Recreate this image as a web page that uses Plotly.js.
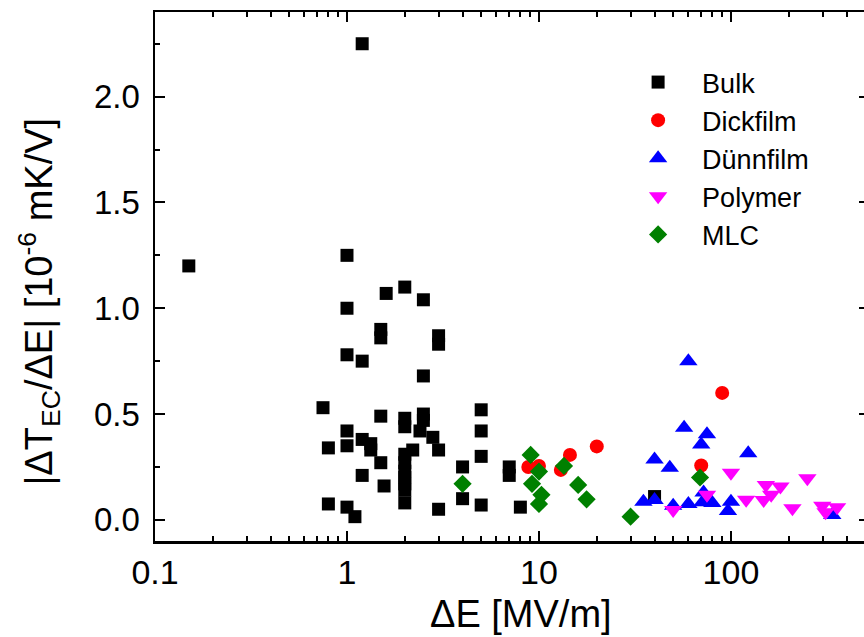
<!DOCTYPE html>
<html>
<head>
<meta charset="utf-8">
<script src="https://cdn.plot.ly/plotly-3.0.1.min.js"></script>
<style>
html, body { margin: 0; padding: 0; overflow: hidden; background: #fff; }
#chart { width: 880px; height: 637px; }
</style>
</head>
<body>
<div id="chart"></div>
<script>
// ---- data ----
const seriesNames = ["Bulk", "Dickfilm", "Dünnfilm", "Polymer", "MLC"];

const bulkX = [0.15, 1.2, 1.0, 1.0, 1.6, 2.0, 2.5, 1.5, 1.5, 3.0, 3.0, 1.0, 1.2, 2.5, 0.75, 1.5, 2.0, 2.0, 2.5, 2.5,
               1.0, 2.4, 2.8, 1.2, 1.33, 1.33, 0.8, 1.0, 2.2, 3.0, 2.0, 2.0, 2.0, 2.0, 2.0, 2.0, 1.5, 1.2, 1.56, 0.8,
               1.0, 1.1, 2.0, 3.0, 5.0, 5.0, 5.0, 4.0, 4.0, 5.0, 7.0, 7.0, 8.0, 40];
const bulkY = [1.20, 2.25, 1.25, 1.00, 1.07, 1.10, 1.04, 0.90, 0.86, 0.87, 0.83, 0.78, 0.75, 0.68, 0.53, 0.49, 0.48, 0.44, 0.50, 0.47,
               0.42, 0.42, 0.39, 0.38, 0.36, 0.33, 0.34, 0.35, 0.33, 0.33, 0.31, 0.27, 0.23, 0.20, 0.17, 0.14, 0.27, 0.21, 0.16, 0.075,
               0.06, 0.015, 0.08, 0.05, 0.52, 0.42, 0.30, 0.25, 0.10, 0.07, 0.25, 0.21, 0.06, 0.11];

const dickX = [8.8, 10, 13, 14.5, 20, 70, 90];
const dickY = [0.25, 0.255, 0.236, 0.307, 0.347, 0.257, 0.60];

const duennX = [60, 57, 75, 70, 40, 48, 123, 35, 40, 50, 60, 72, 71, 80, 100, 96.5, 337];
const duennY = [0.75, 0.435, 0.405, 0.356, 0.285, 0.246, 0.315, 0.085, 0.094, 0.067, 0.075, 0.129, 0.083, 0.08, 0.086, 0.042, 0.023];

const polyX = [100, 75, 50, 120, 250, 152, 181, 148, 162, 209, 299, 311, 357];
const polyY = [0.222, 0.118, 0.047, 0.095, 0.197, 0.165, 0.157, 0.094, 0.118, 0.055, 0.066, 0.036, 0.06];

const mlcX = [4, 9.05, 10, 9.2, 10.3, 10, 13.5, 16, 17.7, 30, 69];
const mlcY = [0.17, 0.307, 0.228, 0.17, 0.118, 0.075, 0.255, 0.165, 0.097, 0.015, 0.20];

const xTickVals = [0.1, 1, 10, 100];
const xTickText = ["0.1", "1", "10", "100"];
const xMinorVals = [0.2, 0.3, 0.4, 0.5, 0.6, 0.7, 0.8, 0.9, 2, 3, 4, 5, 6, 7, 8, 9, 20, 30, 40, 50, 60, 70, 80, 90, 200, 300, 400, 500];
const yTickVals = [0, 0.5, 1.0, 1.5, 2.0];
const yTickText = ["0.0", "0.5", "1.0", "1.5", "2.0"];
const xTitle = "ΔE [MV/m]";
const yTitle = "|ΔT<sub>EC</sub>/ΔE| [10<sup>-6</sup> mK/V]";

// ---- traces ----
const font = "Liberation Sans, Arial, sans-serif";
function tr(name, x, y, symbol, color, size) {
  return { type: "scatter", mode: "markers", name: name, x: x, y: y,
           marker: { symbol: symbol, color: color, size: size, line: { width: 0 } } };
}
const data = [
  tr(seriesNames[0], bulkX, bulkY, "square", "#000000", 13),
  tr(seriesNames[1], dickX, dickY, "circle", "#ff0000", 14),
  tr(seriesNames[2], duennX, duennY, "triangle-up", "#0000ff", 16),
  tr(seriesNames[3], polyX, polyY, "triangle-down", "#ff00ff", 16),
  tr(seriesNames[4], mlcX, mlcY, "diamond", "#008000", 14)
];

const axisCommon = {
  showgrid: false, zeroline: false, showline: true, linecolor: "#000", linewidth: 2.5,
  mirror: "ticks", ticks: "inside", ticklen: 10, tickwidth: 2, tickcolor: "#000"
};

const layout = {
  width: 880, height: 637,
  margin: { l: 155, r: 11, t: 12, b: 96 },
  paper_bgcolor: "#fff", plot_bgcolor: "#fff",
  font: { family: font, color: "#000" },
  showlegend: true,
  legend: {
    x: 0.643, y: 0.913, xanchor: "left", yanchor: "top",
    bgcolor: "rgba(0,0,0,0)", font: { family: font, size: 27, color: "#000" },
    itemwidth: 78
  },
  xaxis: Object.assign({}, axisCommon, {
    type: "log", range: [-1, 2.719],
    tickmode: "array", tickvals: xTickVals, ticktext: xTickText,
    tickfont: { family: font, size: 34 }, ticklabelstandoff: 0,
    minor: { tickmode: "array", tickvals: xMinorVals, ticks: "inside", ticklen: 5, tickwidth: 2, tickcolor: "#000" }
  }),
  yaxis: Object.assign({}, axisCommon, {
    range: [-0.1, 2.4],
    tickmode: "array", tickvals: yTickVals, ticktext: yTickText,
    tickfont: { family: font, size: 33 }, ticklabelstandoff: 6,
    minor: { dtick: 0.25, ticks: "inside", ticklen: 5, tickwidth: 2, tickcolor: "#000" }
  }),
  annotations: [
    {
      text: yTitle, xref: "paper", yref: "paper", x: -0.163, y: 0.452,
      xanchor: "center", yanchor: "middle", textangle: -90, showarrow: false,
      font: { family: font, size: 38, color: "#000" }
    },
    {
      text: xTitle, xref: "paper", yref: "paper", x: 0.5126, y: -0.138,
      xanchor: "center", yanchor: "middle", showarrow: false,
      font: { family: font, size: 38, color: "#000" }
    }
  ]
};

Plotly.newPlot("chart", data, layout, { displayModeBar: false, staticPlot: true });
</script>
</body>
</html>
